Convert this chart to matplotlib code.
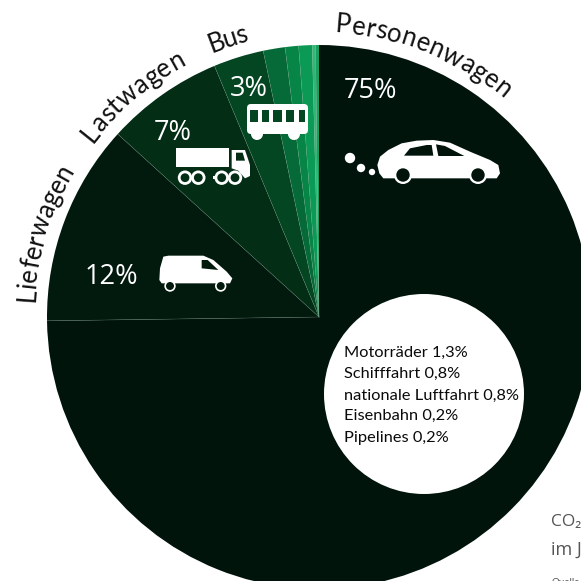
import matplotlib
matplotlib.use('Agg')
import matplotlib.pyplot as plt
from matplotlib.patches import Circle, Polygon, Rectangle, FancyBboxPatch
from matplotlib.textpath import text_to_path
from matplotlib.font_manager import FontProperties
import numpy as np

# CO2 emissions by means of transport, percent
categories = ['Personenwagen', 'Lieferwagen', 'Lastwagen', 'Bus', 'Motorräder',
              'Schifffahrt', 'nationale Luftfahrt', 'Eisenbahn', 'Pipelines']
shares = [75, 12, 7, 3, 1.3, 0.8, 0.8, 0.2, 0.2]
colors = ['#00140c', '#02190d', '#032d15', '#044622', '#056a37',
          '#078547', '#0a9a55', '#2fb877', '#1a9f60']
small_labels = ['Motorräder 1,3%', 'Schifffahrt 0,8%', 'nationale Luftfahrt 0,8%',
                'Eisenbahn 0,2%', 'Pipelines 0,2%']

SIZE = 581
FONT = 'Lato'
plt.rcParams['font.family'] = [FONT, 'DejaVu Sans']


def py(y):
    # y measured from the top edge
    return SIZE - y


fig = plt.figure(figsize=(5.81, 5.81), dpi=100)
ax = fig.add_axes([0, 0, 1, 1])

cx, cy, radius = 319, 317, 272
ax.pie(shares, colors=colors, startangle=90, counterclock=False, center=(cx, py(cy)),
       radius=radius, frame=False, wedgeprops={'edgecolor': 'none'})
ax.set_xlim(0, SIZE)
ax.set_ylim(0, SIZE)
ax.set_aspect('equal')
ax.axis('off')

# thin spokes between the wedges
edges = 90 - 360 * np.cumsum(shares) / sum(shares)
for ang in edges[:-1]:
    a = np.radians(ang)
    ax.plot([cx, cx + radius * np.cos(a)], [py(cy), py(cy) + radius * np.sin(a)],
            color='#6f9a82', lw=0.35, alpha=0.5, zorder=2)


def arc_text(s, start, end, r=285, size=18.5):
    # lay the letters along a circle around the pie, between two angles
    prop = FontProperties(family=FONT, size=size)
    widths = [text_to_path.get_text_width_height_descent(s[:i], prop, False)[0] if i else 0
              for i in range(len(s) + 1)]
    total = widths[-1]
    for i, ch in enumerate(s):
        mid = (widths[i] + widths[i + 1]) / 2 / total
        ang = start + (end - start) * mid
        a = np.radians(ang)
        ax.text(cx + r * np.cos(a), py(cy) + r * np.sin(a), ch, fontsize=size, color='#111111',
                rotation=ang - 90, rotation_mode='anchor', ha='center', va='baseline')


arc_text('Personenwagen', 86.8, 49.7)
arc_text('Lieferwagen', 177, 149)
arc_text('Lastwagen', 142.6, 117.6)
arc_text('Bus', 112, 104.4)

# percent labels
for txt, x, y in [('75%', 344, 98), ('12%', 85, 284), ('7%', 154, 140), ('3%', 230, 96)]:
    ax.text(x, py(y), txt, color='white', fontsize=19.5, ha='left', va='baseline',
            fontfamily='Open Sans')

# circle with the small shares
ax.add_patch(Circle((424, py(394)), 100, fc='white', ec='none', zorder=3))
for lab, y in zip(small_labels, [357, 378, 400, 420, 442]):
    ax.text(344, py(y), lab, color='#0a0a0a', fontsize=11.8, ha='left', va='baseline', zorder=4)

# text at the lower right edge
ax.text(551, py(526), 'CO₂', color='#555555', fontsize=12.5, ha='left', va='baseline',
        fontfamily=['Open Sans', 'DejaVu Sans'])
ax.text(551, py(555), 'im J', color='#555555', fontsize=13, ha='left', va='baseline',
        fontfamily='Open Sans')
ax.text(551, py(585), 'Quelle', color='#555555', fontsize=7, ha='left', va='baseline')


def poly(points, ox, oy, color='white', z=5):
    # outline given in 3x pixel steps from an offset
    pts = [(ox + x / 3, py(oy + y / 3)) for x, y in points]
    ax.add_patch(Polygon(pts, closed=True, fc=color, ec='none', zorder=z))


def wheel(x, y, r_out, r_in, bg):
    ax.add_patch(Circle((x, py(y)), r_out, fc='white', ec='none', zorder=7))
    ax.add_patch(Circle((x, py(y)), r_in, fc=bg, ec='none', zorder=8))


# car with exhaust puffs
car = [(142, 465), (150, 440), (175, 420), (215, 400), (260, 392), (310, 390), (360, 398),
       (420, 425), (480, 450), (505, 465), (510, 490), (500, 505), (160, 505), (148, 490)]
poly(car, 330, 10)
poly([(222, 437), (240, 415), (290, 405), (305, 405), (310, 437)], 330, 10, colors[0], 6)
poly([(318, 403), (345, 408), (403, 438), (325, 438)], 330, 10, colors[0], 6)
wheel(403, 175, 9, 6.7, colors[0])
wheel(478, 175, 9, 6.7, colors[0])
for x, y, r in [(350, 158, 5.2), (361, 168, 4.2), (372, 172, 3.2)]:
    ax.add_patch(Circle((x, py(y)), r, fc='white', ec='none', zorder=5))

# van
van = [(15, 55), (25, 20), (40, 17), (145, 17), (175, 30), (215, 65), (232, 85), (225, 100),
       (20, 100), (13, 90)]
poly(van, 155, 250)
poly([(140, 30), (158, 30), (190, 60), (140, 55)], 155, 250, colors[1], 6)
wheel(170, 286, 5.7, 4, colors[1])
wheel(220.7, 286, 5.7, 4, colors[1])

# truck
ax.add_patch(Rectangle((176, py(167)), 53, 19, fc='white', ec='none', zorder=5))
poly([(185, 30), (225, 30), (240, 75), (240, 108), (225, 115), (205, 92), (185, 85)], 170, 140)
poly([(130, 108), (150, 108), (150, 118), (130, 118)], 170, 140)
poly([(198, 38), (218, 38), (225, 62), (198, 62)], 170, 140, colors[2], 6)
for x in [185, 198.3, 221.7, 235]:
    wheel(x, 177.7, 7.2, 4.4, colors[2])

# bus
ax.add_patch(FancyBboxPatch((247, py(134)), 61, 30, boxstyle='round,pad=0,rounding_size=4',
                            fc='white', ec='none', zorder=5))
for x0, x1 in [(250, 258), (262, 269), (273, 282), (286, 294), (299, 305)]:
    ax.add_patch(Rectangle((x0, py(122)), x1 - x0, 12, fc=colors[3], ec='none', zorder=6))
ax.add_patch(Circle((257, py(134)), 6, fc='white', ec='none', zorder=5))
ax.add_patch(Circle((294, py(134)), 6, fc='white', ec='none', zorder=5))

fig.savefig('out.png', dpi=100)
